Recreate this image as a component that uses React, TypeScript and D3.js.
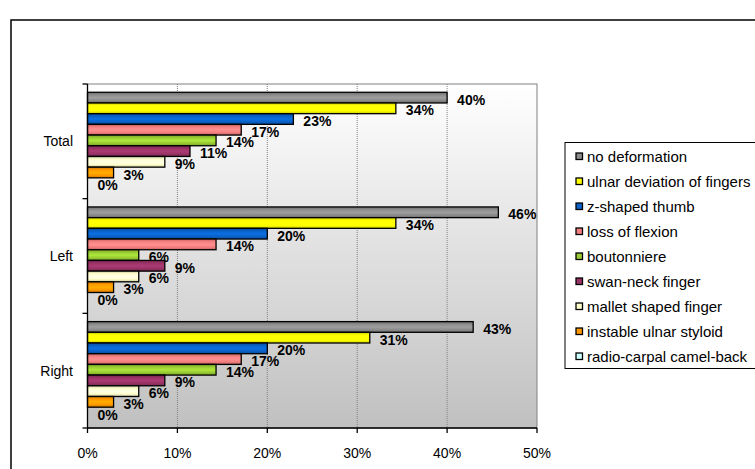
import React from "react";
import * as d3 from "d3";

const categories = ["Total", "Left", "Right"];
const series = [
  "no deformation",
  "ulnar deviation of fingers",
  "z-shaped thumb",
  "loss of flexion",
  "boutonniere",
  "swan-neck finger",
  "mallet shaped finger",
  "instable ulnar styloid",
  "radio-carpal camel-back",
];
const colors = ["#8c8c8c", "#ffff00", "#0a62c8", "#f57f7f", "#99cc33", "#993366", "#ffffcc", "#ff9900", "#ccffff"];
const totalValues = [40.0, 34.3, 22.9, 17.1, 14.3, 11.4, 8.6, 2.9, 0];
const leftValues = [45.7, 34.3, 20.0, 14.3, 5.7, 8.6, 5.7, 2.9, 0];
const rightValues = [42.9, 31.4, 20.0, 17.1, 14.3, 8.6, 5.7, 2.9, 0];
const xTicks = [0, 10, 20, 30, 40, 50];

const valuesByCategory = [totalValues, leftValues, rightValues];

const W = 755;
const H = 469;
const plot = { left: 87.5, right: 537, top: 84, bottom: 428 };
const FONT = "'Liberation Sans', Arial, sans-serif";

export default function App() {
  const x = d3.scaleLinear().domain([0, 50]).range([plot.left, plot.right]);
  const y = d3.scaleBand<string>().domain(categories).range([plot.top, plot.bottom]).padding(0);
  const inner = d3
    .scaleBand<string>()
    .domain(series)
    .range([0, y.bandwidth()])
    .paddingInner(0)
    .paddingOuter(0.86)
    .align(0.45);

  const boundaries = categories.map((c) => y(c) as number).concat([plot.bottom]);
  const legendX = 565;
  const legendY = 142.5;
  const legendStep = 25;

  return (
    <svg
      width={W}
      height={H}
      style={{ position: "absolute", left: 0, top: 0, background: "#fff" }}
      fontFamily={FONT}
    >
      <defs>
        <linearGradient id="bg" x1="0" y1="0" x2="0" y2="1">
          <stop offset="0%" stopColor="#ffffff" />
          <stop offset="100%" stopColor="#c0c0c0" />
        </linearGradient>
        {colors.map((c, i) => {
          const col = d3.color(c)!;
          const dark = d3.color(c)!.darker(0.7).formatHex();
          const light = d3.color(c)!.brighter(0.35).formatHex();
          return (
            <linearGradient key={i} id={`g${i}`} x1="0" y1="0" x2="0" y2="1">
              <stop offset="0%" stopColor={dark} />
              <stop offset="25%" stopColor={col.formatHex()} />
              <stop offset="50%" stopColor={light} />
              <stop offset="75%" stopColor={col.formatHex()} />
              <stop offset="100%" stopColor={dark} />
            </linearGradient>
          );
        })}
      </defs>

      {/* outer chart border */}
      <rect x={11} y={20} width={800} height={500} fill="#fff" stroke="#000" strokeWidth={1.5} />

      {/* plot area */}
      <rect
        x={plot.left}
        y={plot.top}
        width={plot.right - plot.left}
        height={plot.bottom - plot.top}
        fill="url(#bg)"
        stroke="#808080"
        strokeWidth={1}
      />
      {xTicks.slice(1, -1).map((t) => (
        <line
          key={t}
          x1={x(t)}
          x2={x(t)}
          y1={plot.top}
          y2={plot.bottom}
          stroke="#808080"
          strokeWidth={1}
          strokeDasharray="1,1"
        />
      ))}

      {/* bars */}
      {categories.map((c, ci) =>
        series.map((s, si) => {
          const v = valuesByCategory[ci][si];
          const by = (y(c) as number) + (inner(s) as number);
          const bh = inner.bandwidth();
          return (
            <g key={`${c}-${s}`}>
              {v > 0 && (
                <rect
                  x={x(0)}
                  y={by}
                  width={x(v) - x(0)}
                  height={bh}
                  fill={`url(#g${si})`}
                  stroke="#000"
                  strokeWidth={1.3}
                />
              )}
              <text
                x={x(v) + 10}
                y={by + bh / 2 + 7}
                fontSize={14}
                fontWeight="bold"
                fill="#000"
              >
                {`${Math.round(v)}%`}
              </text>
            </g>
          );
        })
      )}

      {/* axes */}
      <line x1={plot.left} x2={plot.left} y1={plot.top} y2={plot.bottom} stroke="#000" strokeWidth={1.3} />
      <line x1={plot.left} x2={plot.right} y1={plot.bottom} y2={plot.bottom} stroke="#000" strokeWidth={1.5} />
      {boundaries.map((b, i) => (
        <line key={i} x1={plot.left - 5} x2={plot.left} y1={b} y2={b} stroke="#000" strokeWidth={1.3} />
      ))}
      {xTicks.map((t) => (
        <g key={t}>
          <line x1={x(t)} x2={x(t)} y1={plot.bottom} y2={plot.bottom + 5} stroke="#000" strokeWidth={1.3} />
          <text x={x(t)} y={plot.bottom + 30} fontSize={14} textAnchor="middle" fill="#000">
            {`${t}%`}
          </text>
        </g>
      ))}
      {categories.map((c) => (
        <text
          key={c}
          x={73}
          y={(y(c) as number) + y.bandwidth() / 2 + 5}
          fontSize={14}
          textAnchor="end"
          fill="#000"
        >
          {c}
        </text>
      ))}

      {/* legend */}
      <rect x={legendX} y={legendY} width={200} height={226} fill="#fff" stroke="#000" strokeWidth={1} />
      {series.map((s, i) => {
        const cy = legendY + 13.5 + i * legendStep;
        return (
          <g key={s}>
            <rect x={576} y={cy - 3} width={6.5} height={6.5} fill={colors[i]} stroke="#000" strokeWidth={1.3} />
            <text x={587} y={cy + 5.5} fontSize={15} fill="#000">
              {s}
            </text>
          </g>
        );
      })}
    </svg>
  );
}
